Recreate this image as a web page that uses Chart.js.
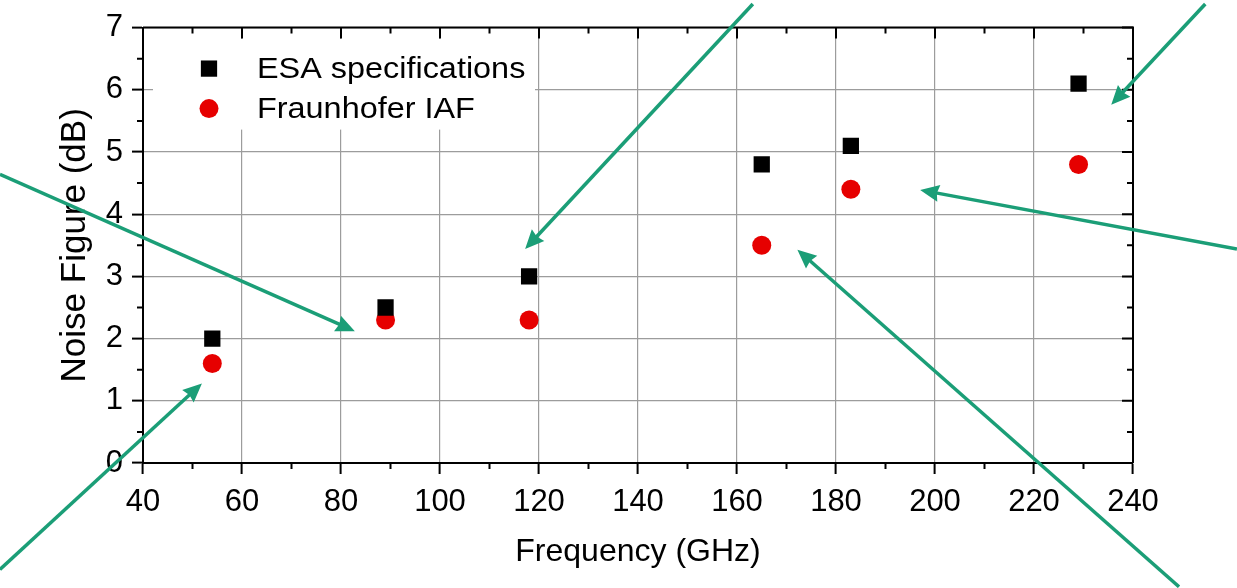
<!DOCTYPE html>
<html>
<head>
<meta charset="utf-8">
<title>Noise Figure vs Frequency</title>
<script src="https://cdn.jsdelivr.net/npm/chart.js@4.4.1/dist/chart.umd.min.js"></script>
<style>
    body { margin: 0; background: #fff; }
    #wrap { width: 1237px; height: 588px; }
</style>
</head>
<body>
<div id="wrap"><canvas id="nfChart" width="1237" height="588"></canvas></div>
<script>

// DATA
const frequencies = [54, 89, 118, 165, 183, 229];
const esaSpec = [2.0, 2.5, 3.0, 4.8, 5.1, 6.1];
const iafMeasured = [1.6, 2.3, 2.3, 3.5, 4.4, 4.8];

const seriesNames = ['ESA specifications', 'Fraunhofer IAF'];

const xTicks = [40, 60, 80, 100, 120, 140, 160, 180, 200, 220, 240];
const yTicks = [0, 1, 2, 3, 4, 5, 6, 7];

// annotation arrows, tail -> head, in axis units (GHz, dB)
const arrowFrom = [[11.1, 4.64], [11.1, -1.71], [163.2, 7.38], [254.6, 7.38], [261.0, 3.44], [249.3, -1.99]];
const arrowTo = [[82.8, 2.12], [51.9, 1.28], [117.2, 3.44], [235.6, 5.76], [197.0, 4.39], [172.2, 3.43]];

const FONT = "'Liberation Sans', Arial, sans-serif";
const ARROW_COLOR = '#1b9e77';

function toPoints(xs, ys) {
    return xs.map((x, i) => ({ x: x, y: ys[i] }));
}

// top / right frame, mirrored ticks and minor ticks
const framePlugin = {
    id: 'frame',
    afterDraw(chart) {
        const ctx = chart.ctx;
        const a = chart.chartArea;
        const sx = chart.scales.x;
        const sy = chart.scales.y;

        ctx.save();
        ctx.strokeStyle = '#000';
        ctx.lineWidth = 2;

        ctx.beginPath();
        ctx.moveTo(a.left, a.top);
        ctx.lineTo(a.right, a.top);
        ctx.lineTo(a.right, a.bottom);
        ctx.stroke();

        ctx.beginPath();
        for (let v = xTicks[0]; v <= xTicks[xTicks.length - 1]; v += 10) {
            const px = sx.getPixelForValue(v);
            const major = xTicks.includes(v);
            const len = major ? 11 : 6;
            // top, inward
            ctx.moveTo(px, a.top);
            ctx.lineTo(px, a.top + len);
            // bottom minor, outward
            if (!major) {
                ctx.moveTo(px, a.bottom);
                ctx.lineTo(px, a.bottom + len);
            }
        }
        for (let v = yTicks[0]; v <= yTicks[yTicks.length - 1]; v += 0.5) {
            const py = sy.getPixelForValue(v);
            const major = yTicks.includes(v);
            const len = major ? 11 : 6;
            // right, inward
            ctx.moveTo(a.right, py);
            ctx.lineTo(a.right - len, py);
            // left minor, outward
            if (!major) {
                ctx.moveTo(a.left, py);
                ctx.lineTo(a.left - len, py);
            }
        }
        ctx.stroke();
        ctx.restore();
    }
};

// legend inside the plot, on a white patch
const insideLegendPlugin = {
    id: 'insideLegend',
    beforeDatasetsDraw(chart) {
        const ctx = chart.ctx;
        const a = chart.chartArea;
        const x0 = a.left + 10;
        const y0 = a.top + 11;

        ctx.save();
        ctx.fillStyle = '#fff';
        ctx.fillRect(x0, y0, 382, 91);

        chart.data.datasets.forEach((ds, i) => {
            const mx = a.left + 66;
            const my = a.top + 41 + i * 40;
            ctx.fillStyle = ds.backgroundColor;
            ctx.beginPath();
            if (ds.pointStyle === 'rect') {
                const h = ds.pointRadius * Math.SQRT1_2;
                ctx.rect(mx - h, my - h, 2 * h, 2 * h);
            } else {
                ctx.arc(mx, my, ds.pointRadius, 0, Math.PI * 2);
            }
            ctx.fill();

            // text in the figure is a little wider than Arial
            ctx.save();
            ctx.translate(a.left + 114, my + 1);
            ctx.scale(1.08, 1);
            ctx.fillStyle = '#000';
            ctx.font = '30px ' + FONT;
            ctx.textBaseline = 'middle';
            ctx.textAlign = 'left';
            ctx.fillText(ds.label, 0, 0);
            ctx.restore();
        });
        ctx.restore();
    }
};

// teal annotation arrows
const arrowPlugin = {
    id: 'arrows',
    afterDraw(chart) {
        const ctx = chart.ctx;
        const sx = chart.scales.x;
        const sy = chart.scales.y;

        ctx.save();
        ctx.strokeStyle = ARROW_COLOR;
        ctx.fillStyle = ARROW_COLOR;
        ctx.lineWidth = 3.5;

        arrowFrom.forEach((from, i) => {
            const to = arrowTo[i];
            const x1 = sx.getPixelForValue(from[0]);
            const y1 = sy.getPixelForValue(from[1]);
            const x2 = sx.getPixelForValue(to[0]);
            const y2 = sy.getPixelForValue(to[1]);
            const ang = Math.atan2(y2 - y1, x2 - x1);
            const cos = Math.cos(ang);
            const sin = Math.sin(ang);
            const headLen = 19;
            const headHalf = 8.5;

            const bx = x2 - headLen * cos;
            const by = y2 - headLen * sin;

            ctx.beginPath();
            ctx.moveTo(x1, y1);
            ctx.lineTo(x2 - (headLen - 3) * cos, y2 - (headLen - 3) * sin);
            ctx.stroke();

            ctx.beginPath();
            ctx.moveTo(x2, y2);
            ctx.lineTo(bx + headHalf * sin, by - headHalf * cos);
            ctx.lineTo(x2 - (headLen - 2) * cos, y2 - (headLen - 2) * sin);
            ctx.lineTo(bx - headHalf * sin, by + headHalf * cos);
            ctx.closePath();
            ctx.fill();
        });
        ctx.restore();
    }
};

const ctx = document.getElementById('nfChart').getContext('2d');

new Chart(ctx, {

    type: 'scatter',

    data: {
        datasets: [
            {
                label: seriesNames[0],
                data: toPoints(frequencies, esaSpec),
                pointStyle: 'rect',
                pointRadius: 11.5,
                backgroundColor: '#000000',
                borderWidth: 0
            },
            {
                label: seriesNames[1],
                data: toPoints(frequencies, iafMeasured),
                pointStyle: 'circle',
                pointRadius: 9.5,
                backgroundColor: '#e60000',
                borderWidth: 0
            }
        ]
    },

    options: {
        responsive: false,
        animation: false,
        events: [],

        layout: {
            padding: { top: 25, right: 104, left: 0, bottom: 0 }
        },

        plugins: {
            legend: { display: false },
            tooltip: { enabled: false }
        },

        scales: {
            x: {
                type: 'linear',
                min: xTicks[0],
                max: xTicks[xTicks.length - 1],
                afterFit(scale) { scale.height = 125; },
                afterBuildTicks(scale) { scale.ticks = xTicks.map(v => ({ value: v })); },
                grid: {
                    color: '#9c9c9c',
                    lineWidth: 1.2,
                    tickLength: 11,
                    tickColor: '#000',
                    tickWidth: 2
                },
                border: { color: '#000', width: 2 },
                ticks: {
                    color: '#000',
                    padding: 10,
                    maxRotation: 0,
                    font: { family: FONT, size: 31 }
                },
                title: {
                    display: true,
                    text: 'Frequency (GHz)',
                    color: '#000',
                    padding: { top: 0, bottom: 17 },
                    font: { family: FONT, size: 32 }
                }
            },
            y: {
                type: 'linear',
                min: yTicks[0],
                max: yTicks[yTicks.length - 1],
                afterFit(scale) { scale.width = 143; },
                afterBuildTicks(scale) { scale.ticks = yTicks.map(v => ({ value: v })); },
                grid: {
                    color: '#9c9c9c',
                    lineWidth: 1.2,
                    tickLength: 11,
                    tickColor: '#000',
                    tickWidth: 2
                },
                border: { color: '#000', width: 2 },
                ticks: {
                    color: '#000',
                    padding: 9,
                    font: { family: FONT, size: 31 }
                },
                title: {
                    display: true,
                    text: 'Noise Figure (dB)',
                    color: '#000',
                    padding: { top: 54, bottom: 0 },
                    font: { family: FONT, size: 35 }
                }
            }
        }
    },

    plugins: [insideLegendPlugin, framePlugin, arrowPlugin]
});
</script>
</body>
</html>
